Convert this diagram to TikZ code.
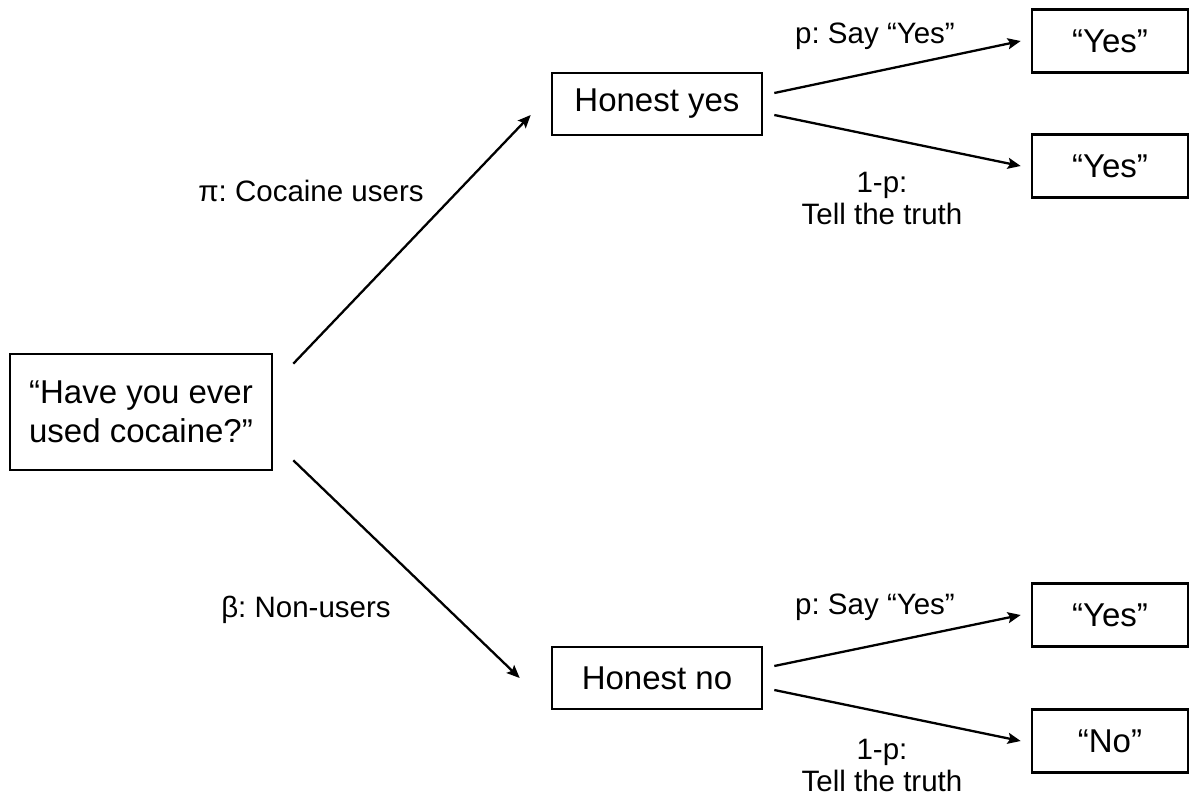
\documentclass[tikz,border=0pt]{standalone}
\usepackage{fontspec}
\setmainfont{Liberation Sans}
\frenchspacing
\usetikzlibrary{arrows.meta}
\begin{document}
\begin{tikzpicture}[x=1pt,y=-1pt,
  box/.style={draw, line width=2.6pt, inner sep=0pt, align=center,
    font=\fontsize{33}{39}\selectfont},
  smallbox/.style={box, minimum width=156pt, minimum height=63pt},
  honest/.style={box, minimum width=210pt, minimum height=62pt},
  lab/.style={inner sep=0pt, align=center, font=\fontsize{29.5}{32}\selectfont},
  arr/.style={line width=2.3pt, -{Stealth[length=13pt,width=11pt,inset=2.5pt]}}]
\useasboundingbox (0,0) rectangle (1192,803);

% question and first-level outcomes
\node[box, minimum width=262pt, minimum height=116pt] (q) at (141,412)
  {“Have you ever\\used cocaine?”};
\node[honest] (hy) at (657,104) {Honest yes};
\node[honest] (hn) at (657,678) {Honest no};

% final answers
\node[smallbox] (y1) at (1110,41)  {“Yes”};
\node[smallbox] (y2) at (1110,166) {“Yes”};
\node[smallbox] (y3) at (1110,615) {“Yes”};
\node[smallbox] (n4) at (1110,741) {“No”};

% branches from the question
\draw[arr] ([shift={(20,11)}]q.north east) -- ([shift={(-20,11)}]hy.west);
\draw[arr] ([shift={(20,-11)}]q.south east) -- ([shift={(-31,0)}]hn.west);

% branches from the honest answers
\draw[arr] ([shift={(11,-11)}]hy.east) -- ([shift={(-10,0)}]y1.west);
\draw[arr] ([shift={(11,11)}]hy.east)  -- ([shift={(-10,0)}]y2.west);
\draw[arr] ([shift={(11,-12)}]hn.east) -- ([shift={(-10,0)}]y3.west);
\draw[arr] ([shift={(11,12)}]hn.east)  -- ([shift={(-10,0)}]n4.west);

% branch labels
\node[lab] (lpi)   at (311,191) {π: Cocaine users};
\node[lab] (lbeta) at (306,610) {β: Non-users};
\node[lab] (lsay1) at (875,36)  {p: Say “Yes”};
\node[lab] (ltr1)  at (882,198) {1-p:\\Tell the truth};
\node[lab] (lsay2) at (875,607) {p: Say “Yes”};
\node[lab] (ltr2)  at (882,765) {1-p:\\Tell the truth};
\end{tikzpicture}
\end{document}
